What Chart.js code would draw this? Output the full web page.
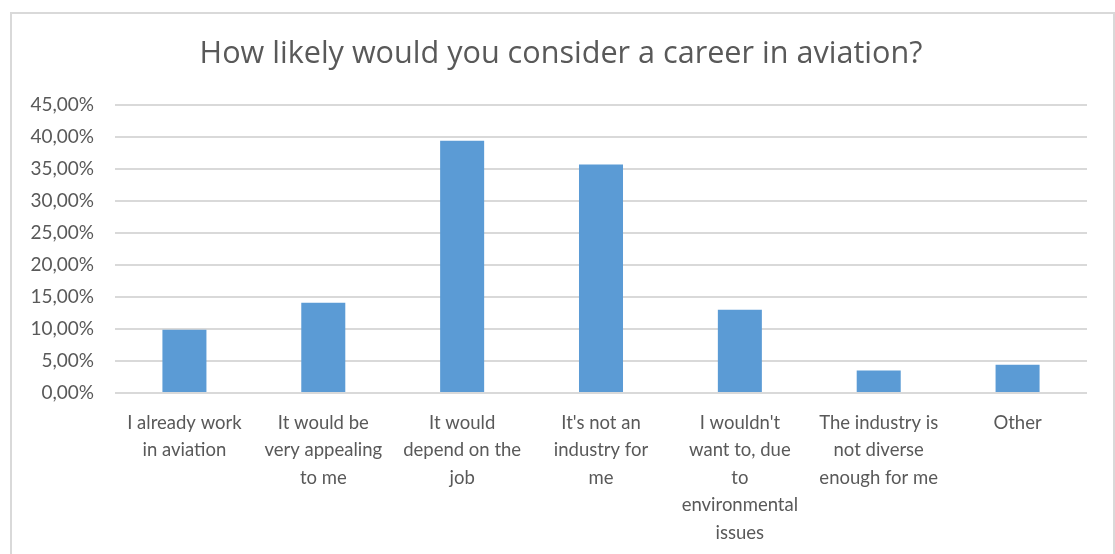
<!DOCTYPE html>
<html>
<head>
<meta charset="utf-8">
<script src="https://cdn.jsdelivr.net/npm/chart.js@4/dist/chart.umd.min.js"></script>
<style>
  html, body { margin: 0; padding: 0; background: #ffffff; }
  #wrap { position: relative; width: 1115px; height: 554px; overflow: hidden; }
  #frame { position: absolute; left: 10px; top: 12px; width: 1101px; height: 560px; border: 2px solid #d9d9d9; pointer-events: none; }
  canvas { position: absolute; left: 0; top: 0; }
</style>
</head>
<body>
<div id="wrap">
  <canvas id="c" width="1115" height="554"></canvas>
  <div id="frame"></div>
</div>
<script>
const title = "How likely would you consider a career in aviation?";
const categories = [
  ["I already work", "in aviation"],
  ["It would be", "very appealing", "to me"],
  ["It would", "depend on the", "job"],
  ["It's not an", "industry for", "me"],
  ["I wouldn't", "want to, due", "to", "environmental", "issues"],
  ["The industry is", "not diverse", "enough for me"],
  ["Other"]
];
const values = [9.9, 14.1, 39.4, 35.7, 13.0, 3.5, 4.4];
const yMax = 45;
const yStep = 5;

const FONT = "Lato, 'Open Sans', sans-serif";
const TITLE_FONT = "'Open Sans', Lato, sans-serif";
const TXT = "#595959";

const titlePlugin = {
  id: 'frameTitle',
  afterDraw(chart) {
    const ctx = chart.ctx;
    ctx.save();
    ctx.font = "400 30.6px " + TITLE_FONT;
    ctx.fillStyle = TXT;
    ctx.textAlign = 'center';
    ctx.textBaseline = 'alphabetic';
    ctx.fillText(title, 561, 63);
    ctx.restore();
  }
};

new Chart(document.getElementById('c'), {
  type: 'bar',
  data: {
    labels: categories,
    datasets: [{
      data: values,
      backgroundColor: '#5b9bd5',
      borderWidth: 0,
      categoryPercentage: 1,
      barPercentage: 0.317
    }]
  },
  options: {
    responsive: false,
    animation: false,
    layout: { padding: { left: 0, right: 28, top: 105, bottom: 0 } },
    plugins: {
      legend: { display: false },
      tooltip: { enabled: false },
      title: { display: false }
    },
    scales: {
      x: {
        grid: { display: false, drawTicks: false },
        border: { display: false },
        ticks: {
          color: TXT,
          font: { family: FONT, size: 18.5, lineHeight: 1.49 },
          padding: 16,
          maxRotation: 0,
          autoSkip: false
        },
        afterFit: (s) => { s.height = 161; }
      },
      y: {
        min: 0,
        max: yMax,
        grid: { color: '#d9d9d9', lineWidth: 2, drawTicks: false },
        border: { display: false },
        ticks: {
          stepSize: yStep,
          color: TXT,
          font: { family: FONT, size: 19 },
          padding: 21,
          callback: (v) => v.toFixed(2).replace('.', ',') + '%'
        },
        afterFit: (s) => { s.width = 115; }
      }
    }
  },
  plugins: [titlePlugin]
});
</script>
</body>
</html>
